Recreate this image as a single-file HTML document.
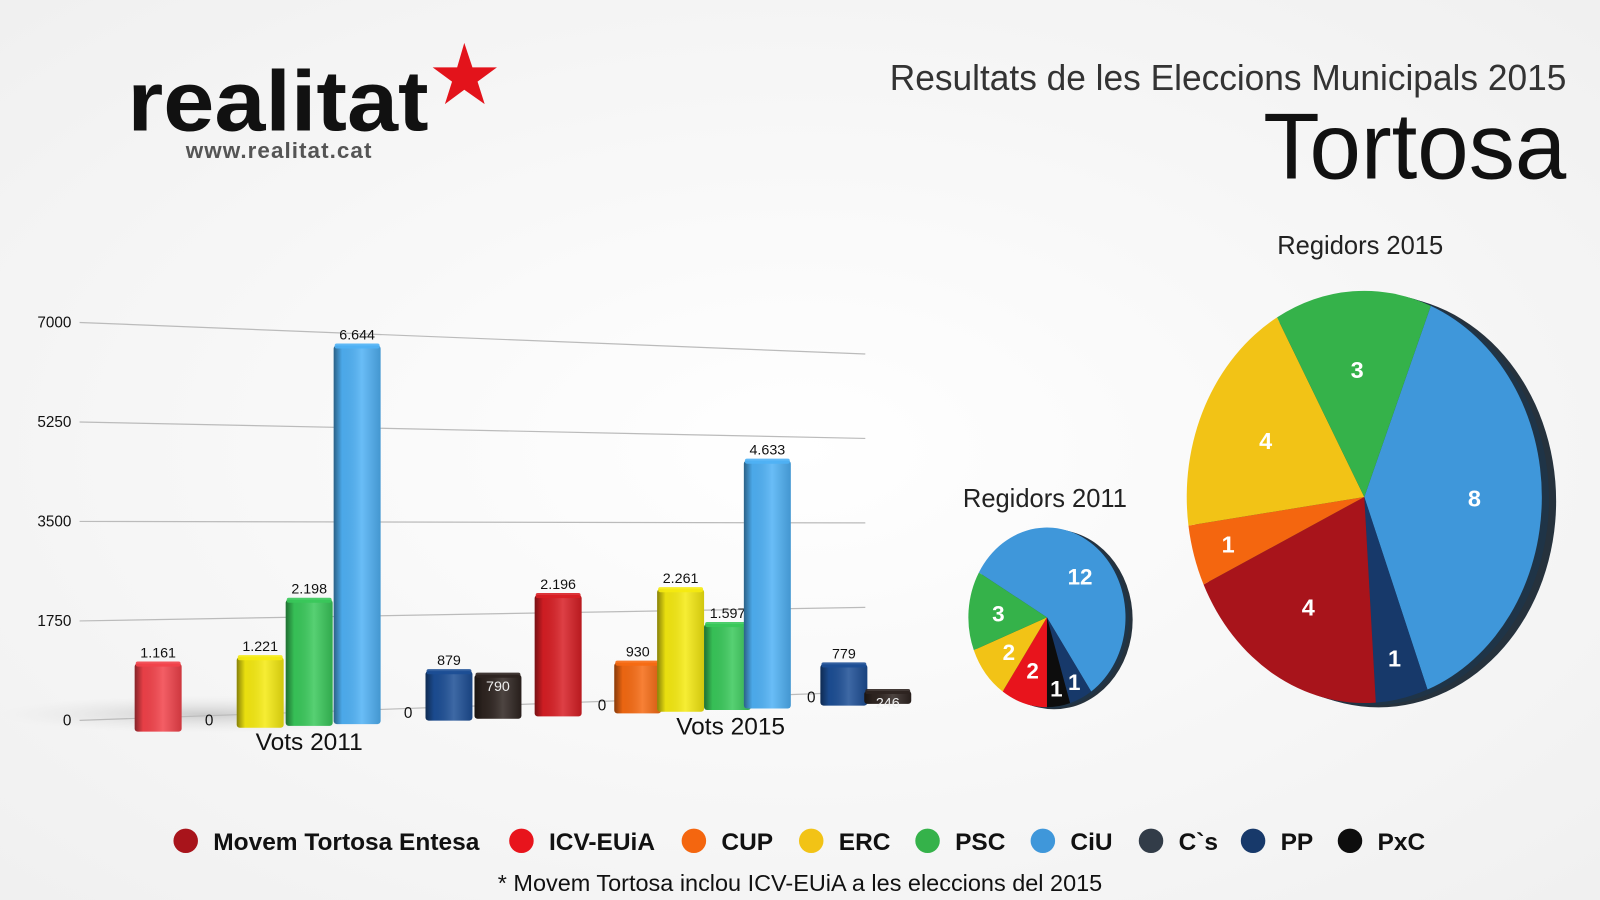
<!DOCTYPE html>
<html><head><meta charset="utf-8"><style>
html,body{margin:0;padding:0;background:#f8f8f8;}
svg{display:block;font-family:"Liberation Sans",sans-serif;}
</style></head><body>
<svg id="chart" width="1600" height="900" viewBox="0 0 1568 882" preserveAspectRatio="none" xmlns="http://www.w3.org/2000/svg">
<defs>
<radialGradient id="bg" cx="50%" cy="50%" r="70%"><stop offset="0" stop-color="#ffffff"/><stop offset="1" stop-color="#f0f0f0"/></radialGradient>
<radialGradient id="shadow" cx="50%" cy="50%" r="50%"><stop offset="0" stop-color="#bbb" stop-opacity="0.7"/><stop offset="1" stop-color="#ddd" stop-opacity="0"/></radialGradient>
</defs>
<rect x="0" y="0" width="1568" height="882" fill="url(#bg)"/>
<g>
<text x="125" y="128" font-size="84" font-weight="bold" fill="#111" textLength="295" lengthAdjust="spacingAndGlyphs">realitat</text>
<polygon points="455,42 463,66 487,66 468,80 475,102 455,88 436,102 443,80 424,66 448,66" fill="#e3131b"/>
<text x="182" y="155" font-size="22" font-weight="bold" fill="#555" textLength="182">www.realitat.cat</text>
</g>
<text x="1535" y="88" text-anchor="end" font-size="35" fill="#333" textLength="663" lengthAdjust="spacingAndGlyphs">Resultats de les Eleccions Municipals 2015</text>
<text x="1535" y="175" text-anchor="end" font-size="92" fill="#111" textLength="297" lengthAdjust="spacingAndGlyphs">Tortosa</text>
<ellipse cx="200" cy="700" rx="200" ry="18" fill="url(#shadow)"/>
<g id="grid"></g>
<g id="bars"></g>
<text x="303" y="735" text-anchor="middle" font-size="24" fill="#111">Vots 2011</text>
<text x="716" y="720" text-anchor="middle" font-size="24" fill="#111">Vots 2015</text>
<text x="1024" y="497" text-anchor="middle" font-size="25" fill="#222">Regidors 2011</text>
<text x="1333" y="249" text-anchor="middle" font-size="25" fill="#222">Regidors 2015</text>
<g id="pies"></g>
<g id="legend"></g>
<text x="784" y="873" text-anchor="middle" font-size="23" fill="#111">* Movem Tortosa inclou ICV-EUiA a les eleccions del 2015</text>
</svg>
<script>
const NS="http://www.w3.org/2000/svg";
const tickValues=[0,1750,3500,5250,7000];
const tickLabels=["0","1750","3500","5250","7000"];
const barParties=["ICV-EUiA","CUP","ERC","PSC","CiU","C`s","PP","PxC","Movem","ICV-EUiA","CUP","ERC","PSC","CiU","C`s","PP","PxC"];
const barValues=[1161,0,1221,2198,6644,0,879,790,2196,0,930,2261,1597,4633,0,779,246];
const barLabels=["1.161","0","1.221","2.198","6.644","0","879","790","2.196","0","930","2.261","1.597","4.633","0","779","246"];
const pie2011Values=[12,1,1,2,2,3];
const pie2011Labels=["12","1","1","2","2","3"];
const pie2011Parties=["CiU","PP","PxC","ICV-EUiA","ERC","PSC"];
const pie2015Values=[8,1,4,1,4,3];
const pie2015Labels=["8","1","4","1","4","3"];
const pie2015Parties=["CiU","PP","Movem","CUP","ERC","PSC"];
const legendNames=["Movem Tortosa Entesa","ICV-EUiA","CUP","ERC","PSC","CiU","C`s","PP","PxC"];
const legendParties=["Movem","ICV-EUiA","CUP","ERC","PSC","CiU","C`s","PP","PxC"];
const colors={"Movem":"#a8141b","ICV-EUiA":"#e8141c","CUP":"#f4660f","ERC":"#f2c316","PSC":"#35b24a","CiU":"#3f97da","C`s":"#323c48","PP":"#17396a","PxC":"#0d0d0d"};
const barColors={"Movem":"#d81e24","ICV-EUiA":"#f2424a","CUP":"#f66a12","ERC":"#f5ea10","PSC":"#39c85a","CiU":"#4fb1f5","C`s":"#4a4244","PP":"#1c4e95","PxC":"#2e2420"};
function mk(tag,attrs,parent){const e=document.createElementNS(NS,tag);for(const k in attrs)e.setAttribute(k,attrs[k]);parent.appendChild(e);return e;}
function gridY(v,x){const yl=706-v*0.05571, yr=678-v*0.0473;return yl+(yr-yl)*(x-78)/(848-78);}
function baseY(x){return 717-(x-155)*0.038;}
function scaleK(x){return 0.0575-(x-155)*0.0000085;}
const grid=document.getElementById('grid');
tickValues.forEach((v,i)=>{
 const l=mk('line',{x1:78,y1:gridY(v,78),x2:848,y2:gridY(v,848),stroke:"#bbb","stroke-width":1.2},grid);
 
 
 const t=mk('text',{x:70,y:gridY(v,78)+5,"text-anchor":"end","font-size":15,fill:"#111"},grid);
 t.textContent=tickLabels[i];
 
 
});
const bars=document.getElementById('bars');
const xStart=155, xStep=[0,50,50,48,47,50,40,48,59,43,35,42,46,39,43,32,43];
let cx=xStart;
const gradDefs=document.querySelector('defs');
barValues.forEach((v,i)=>{
 cx+=xStep[i];
 const p=barParties[i], col=barColors[p];
 const b=baseY(cx), h=v*scaleK(cx), w=46;
 const g=mk('g',{},bars);
 
 
 if(v>0){
  const gid='bg'+i;
  const lg=mk('linearGradient',{id:gid,x1:0,x2:1,y1:0,y2:0},gradDefs);
  mk('stop',{offset:0,"stop-color":"#000","stop-opacity":0.45},lg);
  mk('stop',{offset:0.18,"stop-color":"#000","stop-opacity":0.05},lg);
  mk('stop',{offset:0.6,"stop-color":"#fff","stop-opacity":0.15},lg);
  mk('stop',{offset:1,"stop-color":"#000","stop-opacity":0.15},lg);
  mk('rect',{x:cx-w/2,y:b-h,width:w,height:h,rx:3,fill:col},g);
  mk('rect',{x:cx-w/2,y:b-h,width:w,height:h,rx:3,fill:'url(#'+gid+')'},g);
  mk('rect',{x:cx-w/2+1,y:b-h-2,width:w-2,height:5,rx:2,fill:col,opacity:0.9},g);
 }
 const inside=(p==="PxC");
 const t=mk('text',{x:cx,y:inside? b-h+16 : b-h-6,"text-anchor":"middle","font-size":v===0?15:14,fill:inside?"#eee":"#111"},g);
 if(v===0) t.setAttribute('y',b-4);
 t.textContent=barLabels[i];
});
const pies=document.getElementById('pies');
function drawPie(vals,labels,parties,cxp,cyp,rx,ry,depth,startDeg,name,fs){
 const g=mk('g',{},pies);
 
 
 mk('ellipse',{cx:cxp+depth,cy:cyp+depth*0.3,rx:rx,ry:ry,fill:"#26323d"},g);
 mk('ellipse',{cx:cxp+depth*0.5,cy:cyp+depth*0.15,rx:rx,ry:ry,fill:"#1f3447"},g);
 const tot=vals.reduce((a,b)=>a+b,0);
 let a=startDeg*Math.PI/180;
 vals.forEach((v,i)=>{
  const da=v/tot*2*Math.PI, a2=a+da;
  const x1=cxp+rx*Math.cos(a),y1=cyp+ry*Math.sin(a),x2=cxp+rx*Math.cos(a2),y2=cyp+ry*Math.sin(a2);
  const path=mk('path',{d:`M${cxp},${cyp}L${x1},${y1}A${rx},${ry} 0 ${da>Math.PI?1:0} 1 ${x2},${y2}Z`,fill:colors[parties[i]]},g);
  
  
  const m=a+da/2, rr=(v/tot<0.08)?0.8:0.62;
  const t=mk('text',{x:cxp+rx*rr*Math.cos(m),y:cyp+ry*rr*Math.sin(m)+fs*0.36,"text-anchor":"middle","font-size":fs,"font-weight":"bold",fill:"#fff"},g);
  t.textContent=labels[i];
  
  
  a=a2;
 });
}
drawPie(pie2011Values,pie2011Labels,pie2011Parties,1026,605,77,88,7,-150,'pie-2011',22);
drawPie(pie2015Values,pie2015Labels,pie2015Parties,1337,487,174,202,14,-68,'pie-2015',23);
const lgEl=document.getElementById('legend');
const lx=[182,511,680,795,909,1022,1128,1228,1323];
legendNames.forEach((n,i)=>{
 const g=mk('g',{},lgEl);
 
 
 mk('circle',{cx:lx[i],cy:824,r:12,fill:colors[legendParties[i]]},g);
 const t=mk('text',{x:lx[i]+27,y:833,"font-size":24,"font-weight":"bold",fill:"#111"},g);
 t.textContent=n;
});
</script>
</body></html>
